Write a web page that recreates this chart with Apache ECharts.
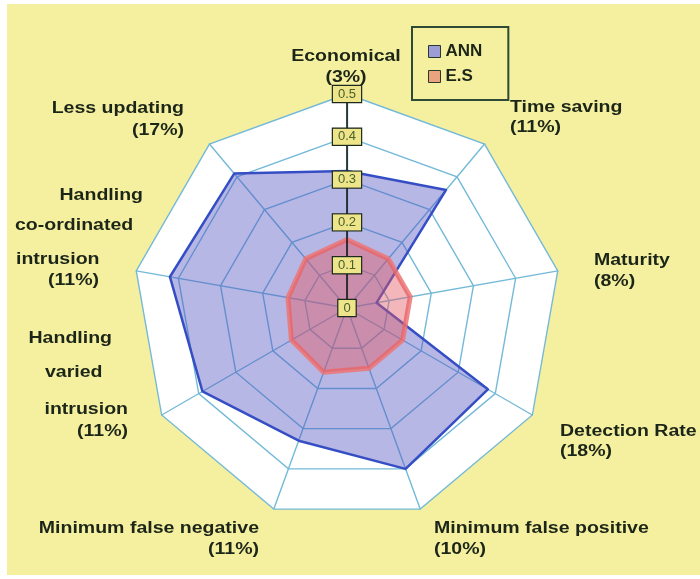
<!DOCTYPE html>
<html>
<head>
<meta charset="utf-8">
<title>ANN vs E.S radar</title>
<script src="https://cdn.jsdelivr.net/npm/echarts@6/dist/echarts.min.js"></script>
<style>
  html, body { margin: 0; padding: 0; background: #ffffff; }
  #wrap { position: relative; width: 700px; height: 579px; overflow: hidden; }
  #panel { position: absolute; left: 7px; top: 4px; width: 693px; height: 571px; background: #f5efa0; }
  #chart { position: absolute; left: 0; top: 0; width: 700px; height: 579px; }
</style>
</head>
<body>
<div id="wrap">
  <div id="panel"></div>
  <div id="chart"></div>
</div>
<script>
// Criteria, listed clockwise from the top
const indicatorNames = [
  'Economical',
  'Time saving',
  'Maturity',
  'Detection Rate',
  'Minimum false positive',
  'Minimum false negative',
  'Handling varied intrusion',
  'Handling co-ordinated intrusion',
  'Less updating'
];
// Weight of each criterion, in percent
const shares = [3, 11, 8, 18, 10, 11, 11, 11, 17];

const annValues = [0.32, 0.36, 0.07, 0.38, 0.40, 0.33, 0.39, 0.42, 0.41];
const esValues  = [0.16, 0.15, 0.15, 0.15, 0.15, 0.16, 0.15, 0.14, 0.15];

const seriesNames = ['ANN', 'E.S'];
const tickLabels = ['0', '0.1', '0.2', '0.3', '0.4', '0.5'];
const axisMax = 0.5;

// Where each line of each criterion label sits: [x, y, align]
const labelLayout = [
  [[346, 57, 'center'], [346, 78, 'center']],
  [[510, 108, 'left'], [510, 128, 'left']],
  [[594, 261, 'left'], [594, 282, 'left']],
  [[560, 432, 'left'], [560, 452, 'left']],
  [[434, 529, 'left'], [434, 550, 'left']],
  [[259, 529, 'right'], [259, 550, 'right']],
  [[112, 339, 'right'], [45, 373, 'left'], [128, 410, 'right'], [128, 432, 'right']],
  [[143, 196, 'right'], [15, 226, 'left'], [16, 260, 'left'], [99, 281, 'right']],
  [[184, 109, 'right'], [184, 131, 'right']]
];

// ECharts lays radar indicators out counter-clockwise, so walk the list backwards after the first one
const order = [0].concat(indicatorNames.map((_, i) => i).slice(1).reverse());
const pick = arr => order.map(i => arr[i]);

const CENTER = [347, 308];
const RADIUS = 214;
const GRID = '#74bad8';
const TEXT = '#1c2618';
const FONT = '"Liberation Sans", Arial, sans-serif';

function indicators(withLabels) {
  return order.map((i, k) => {
    const ind = { name: indicatorNames[i], min: 0, max: axisMax };
    if (withLabels && k === 0) {
      ind.axisLine = { show: true, lineStyle: { color: '#141a14', width: 1.6 } };
      ind.axisLabel = {
        show: true,
        showMinLabel: true,
        showMaxLabel: true,
        margin: 0,
        align: 'center',
        verticalAlign: 'middle',
        color: '#47602c',
        fontSize: 13,
        fontFamily: FONT,
        backgroundColor: '#eee48a',
        borderColor: '#1c2a1c',
        borderWidth: 1.2,
        padding: [2, 5, 1, 5],
        formatter: v => tickLabels[Math.round(v * 10)]
      };
    }
    return ind;
  });
}

// Criterion labels drawn as free text
const labelTexts = [];
labelLayout.forEach((lines, i) => {
  const words = lines.length > 2 ? indicatorNames[i].split(' ') : [indicatorNames[i]];
  const texts = words.concat('(' + shares[i] + '%)');
  texts.forEach((t, j) => {
    const [x, y, align] = lines[j];
    labelTexts.push({
      type: 'text',
      x: x,
      y: y,
      scaleX: 1.22,
      z: 10,
      style: {
        text: t,
        font: 'bold 16px ' + FONT,
        fill: TEXT,
        textAlign: align,
        align: align,
        textVerticalAlign: 'middle',
        verticalAlign: 'middle'
      }
    });
  });
});

const chart = echarts.init(document.getElementById('chart'), null, { renderer: 'canvas' });

chart.setOption({
  backgroundColor: 'transparent',
  animation: false,
  legend: {
    data: seriesNames,
    orient: 'vertical',
    left: 412,
    top: 27,
    padding: [16, 26, 15, 16],
    itemGap: 8,
    itemWidth: 12,
    itemHeight: 12,
    icon: 'rect',
    borderColor: '#2d4a36',
    borderWidth: 2,
    itemStyle: { borderColor: '#2a3a2a', borderWidth: 1 },
    textStyle: { color: TEXT, fontSize: 17, fontWeight: 'bold', fontFamily: FONT }
  },
  graphic: { elements: labelTexts },
  radar: [
    {
      // web and background, under the series
      center: CENTER,
      radius: RADIUS,
      startAngle: 90,
      splitNumber: 5,
      shape: 'polygon',
      z: 0,
      indicator: indicators(false),
      axisName: { show: false },
      axisTick: { show: false },
      axisLabel: { show: false },
      axisLine: { show: true, lineStyle: { color: GRID, width: 1.4 } },
      splitLine: { show: true, lineStyle: { color: GRID, width: 1.4 } },
      splitArea: { show: true, areaStyle: { color: ['#ffffff'] } }
    },
    {
      // value axis with boxed tick labels, above the series
      center: CENTER,
      radius: RADIUS,
      startAngle: 90,
      splitNumber: 5,
      shape: 'polygon',
      z: 5,
      indicator: indicators(true),
      axisName: { show: false },
      axisTick: { show: false },
      axisLabel: { show: false },
      axisLine: { show: false },
      splitLine: { show: false },
      splitArea: { show: false }
    }
  ],
  series: [
    {
      type: 'radar',
      radarIndex: 0,
      symbol: 'none',
      data: [
        {
          name: seriesNames[0],
          value: pick(annValues),
          itemStyle: { color: '#9c9cd6' },
          lineStyle: { color: '#2f4ec6', width: 2.5 },
          areaStyle: { color: 'rgba(78, 78, 192, 0.58)' }
        },
        {
          name: seriesNames[1],
          value: pick(esValues),
          itemStyle: { color: '#eba27f' },
          lineStyle: { color: 'rgba(236, 118, 118, 0.85)', width: 5 },
          areaStyle: { color: 'rgba(228, 88, 96, 0.62)' }
        }
      ]
    }
  ]
});
</script>
</body>
</html>
